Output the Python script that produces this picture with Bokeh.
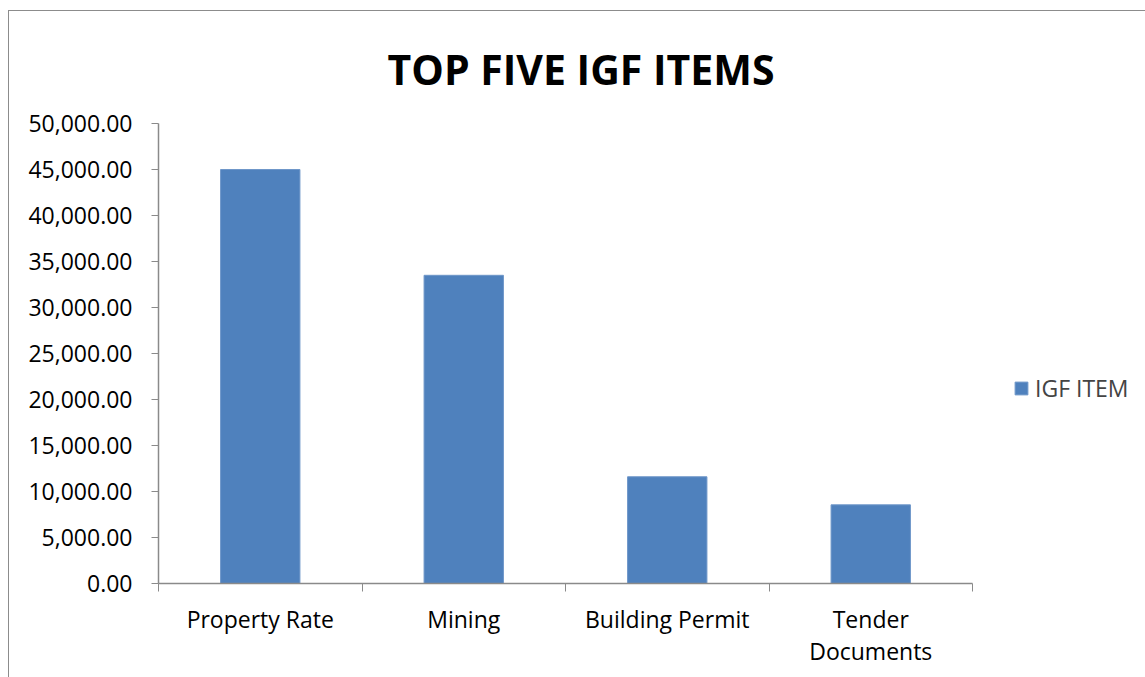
from bokeh.plotting import figure
from bokeh.models import (Range1d, FixedTicker, NumeralTickFormatter, Legend, LegendItem,
                          ColumnDataSource, Title)
from bokeh.embed import file_html
from bokeh.resources import INLINE

categories = ["Property Rate", "Mining", "Building Permit", "Tender\nDocuments"]
values = [45000, 33500, 11600, 8550]
series_name = "IGF ITEM"
title_text = "TOP FIVE IGF ITEMS"
y_ticks = [0, 5000, 10000, 15000, 20000, 25000, 30000, 35000, 40000, 45000, 50000]

FONT = "Open Sans"
GREY = "#8a8a8a"
BAR = "#4F81BD"

xs = [i + 0.5 for i in range(len(categories))]
src = ColumnDataSource(dict(x=xs, top=values))

p = figure(frame_width=814, frame_height=460, output_backend="svg", toolbar_location=None,
           x_range=Range1d(0, len(categories)), y_range=Range1d(0, 50000),
           min_border_left=149, min_border_right=167, min_border_top=111,
           min_border_bottom=94,
           styles={"border-top": "1px solid #8c8c8c", "border-left": "1px solid #8c8c8c",
                   "margin-top": "10px", "margin-left": "8px"})
p.title = Title(text=title_text, align="left", offset=229, text_font=FONT,
                text_font_size="41px", text_font_style="bold", text_color="black",
                standoff=54)

r = p.vbar(x="x", top="top", width=0.39, source=src, fill_color=BAR, line_color="#6f97c9",
           line_width=1)

p.xgrid.visible = False
p.ygrid.visible = False
p.outline_line_color = None

xa = p.xaxis[0]
xa.ticker = FixedTicker(ticks=xs, minor_ticks=list(range(len(categories) + 1)))
xa.major_label_overrides = {x: c for x, c in zip(xs, categories)}
xa.major_tick_out = 0
xa.major_tick_in = 0
xa.minor_tick_out = 8
xa.minor_tick_in = 0
xa.minor_tick_line_color = GREY
xa.axis_line_color = GREY
xa.axis_line_width = 1.5
xa.major_label_text_font = FONT
xa.major_label_text_font_size = "23px"
xa.major_label_text_color = "black"
xa.major_label_standoff = 11
xa.major_label_text_line_height = 1.0

ya = p.yaxis[0]
ya.ticker = FixedTicker(ticks=y_ticks)
ya.formatter = NumeralTickFormatter(format="0,0.00")
ya.major_tick_out = 7
ya.major_tick_in = 0
ya.minor_tick_out = 0
ya.minor_tick_in = 0
ya.major_tick_line_color = GREY
ya.axis_line_color = GREY
ya.axis_line_width = 1.5
ya.major_label_text_font = FONT
ya.major_label_text_font_size = "23px"
ya.major_label_text_color = "black"
ya.major_label_standoff = 19

legend = Legend(items=[LegendItem(label=series_name, renderers=[r])],
                location=(41, 179), margin=0, padding=0, border_line_color=None,
                background_fill_alpha=0, glyph_width=16, glyph_height=16,
                label_standoff=6, label_text_font=FONT, label_text_font_size="23px",
                label_height=20)
p.add_layout(legend, "right")

open("out.html", "w").write(file_html(p, INLINE))
